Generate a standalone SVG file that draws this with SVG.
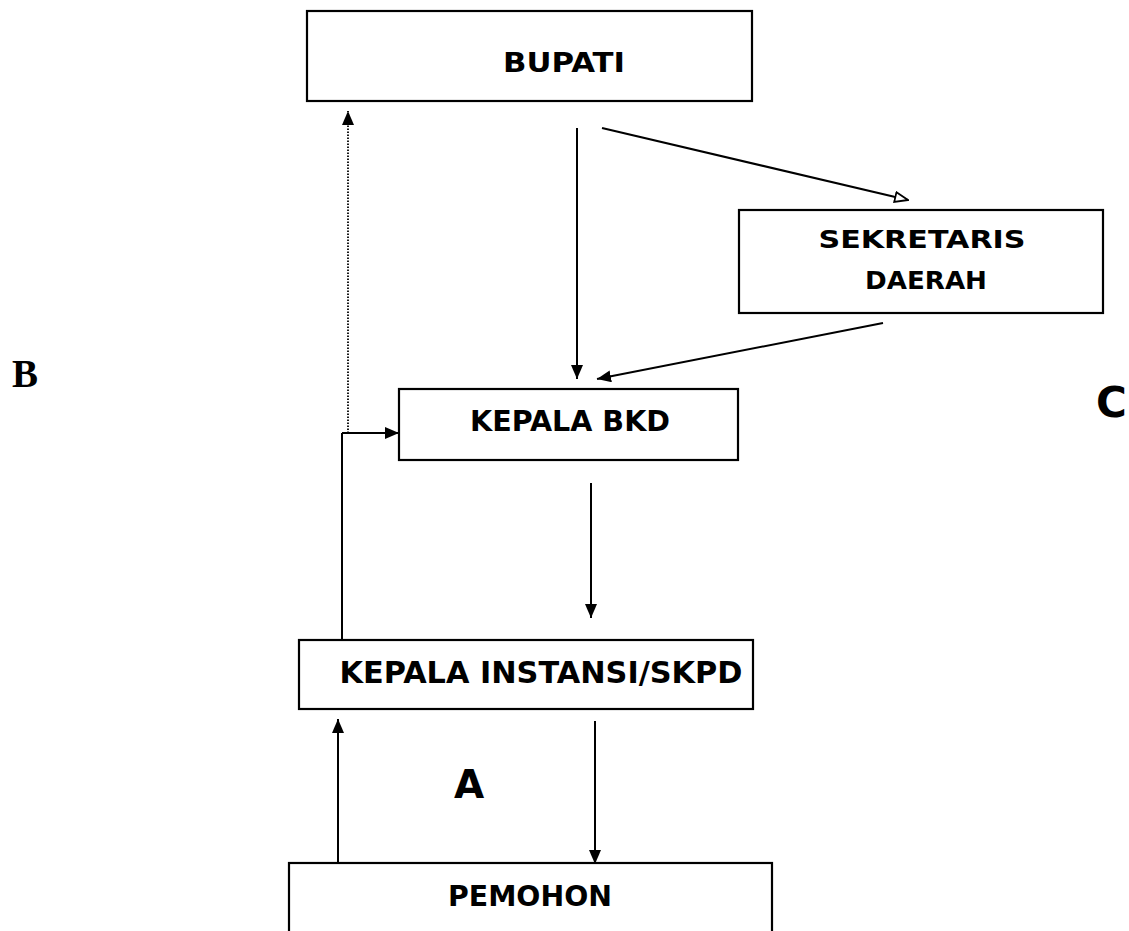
<svg xmlns="http://www.w3.org/2000/svg" width="1129" height="931" viewBox="0 0 1129 931">
<style>
.box{fill:#fff;stroke:#000;stroke-width:2.2}
.lbl{font-family:"DejaVu Sans",Verdana,sans-serif;font-weight:bold;fill:#000;text-anchor:middle}
.ln{fill:none;stroke:#000;stroke-width:2}
.dot{fill:none;stroke:#000;stroke-width:1.8;stroke-dasharray:1.5 1.5}
</style>
<defs>
<marker id="ah" viewBox="0 0 14 12" refX="14" refY="6" markerWidth="14" markerHeight="12" markerUnits="userSpaceOnUse" orient="auto">
<path d="M0,0 L14,6 L0,12 Z" fill="#000"/>
</marker>
<marker id="ao" viewBox="0 0 15 13" refX="14" refY="6.5" markerWidth="15" markerHeight="13" markerUnits="userSpaceOnUse" orient="auto">
<path d="M1,1.5 L14,6.5 L1,11.5 Z" fill="#fff" stroke="#000" stroke-width="1.8"/>
</marker>
</defs>
<rect width="1129" height="931" fill="#fff"/>
<g id="connectors">
<line class="dot" x1="348" y1="433" x2="348" y2="111" marker-end="url(#ah)"/>
<line class="ln" x1="342" y1="640" x2="342" y2="433"/>
<line class="ln" x1="342" y1="433" x2="399" y2="433" marker-end="url(#ah)"/>
<line class="ln" x1="577" y1="128" x2="577" y2="379" marker-end="url(#ah)"/>
<line class="ln" x1="602" y1="128" x2="908" y2="200" marker-end="url(#ao)"/>
<line class="ln" x1="883" y1="323" x2="597" y2="379" marker-end="url(#ah)"/>
<line class="ln" x1="591" y1="483" x2="591" y2="618" marker-end="url(#ah)"/>
<line class="ln" x1="338" y1="863" x2="338" y2="719" marker-end="url(#ah)"/>
<line class="ln" x1="595" y1="721" x2="595" y2="864" marker-end="url(#ah)"/>
</g>
<g id="bupati">
<rect class="box" x="307" y="11" width="445" height="90"/>
<text class="lbl" x="564" y="72" font-size="27" textLength="122" lengthAdjust="spacingAndGlyphs">BUPATI</text>
</g>
<g id="sekda">
<rect class="box" x="739" y="210" width="364" height="103"/>
<text class="lbl" x="922" y="248" font-size="25" textLength="207" lengthAdjust="spacingAndGlyphs">SEKRETARIS</text>
<text class="lbl" x="926" y="289" font-size="25" textLength="122" lengthAdjust="spacingAndGlyphs">DAERAH</text>
</g>
<g id="kepala-bkd">
<rect class="box" x="399" y="389" width="339" height="71"/>
<text class="lbl" x="570" y="431" font-size="29" textLength="200" lengthAdjust="spacingAndGlyphs">KEPALA BKD</text>
</g>
<g id="kepala-instansi">
<rect class="box" x="299" y="640" width="454" height="69"/>
<text class="lbl" x="541" y="683" font-size="30" textLength="403" lengthAdjust="spacingAndGlyphs">KEPALA INSTANSI/SKPD</text>
</g>
<g id="pemohon">
<rect class="box" x="289" y="863" width="483" height="80"/>
<text class="lbl" x="530" y="906" font-size="29" textLength="164" lengthAdjust="spacingAndGlyphs">PEMOHON</text>
</g>
<g id="labels">
<text x="469" y="798" font-family="DejaVu Sans,Verdana,sans-serif" font-weight="bold" font-size="39" text-anchor="middle">A</text>
<text x="12" y="387" font-family="Liberation Serif,Times New Roman,serif" font-weight="bold" font-size="39">B</text>
<text x="1096" y="417" font-family="DejaVu Sans,Verdana,sans-serif" font-weight="bold" font-size="42">C</text>
</g>
</svg>
